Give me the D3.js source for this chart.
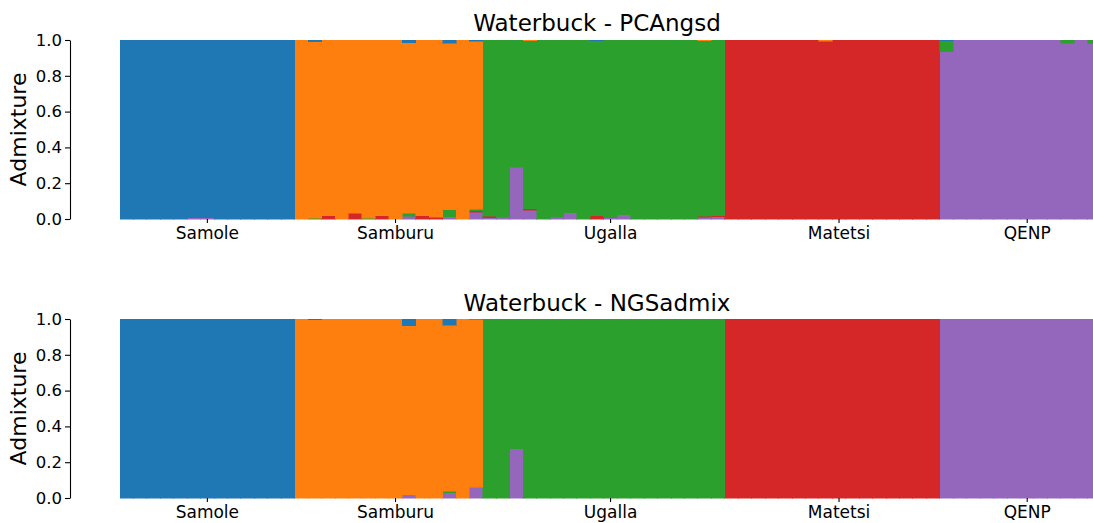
<!DOCTYPE html>
<html>
<head>
<meta charset="utf-8">
<script src="https://cdn.jsdelivr.net/npm/d3@7/dist/d3.min.js"></script>
<style>
  html, body { margin: 0; padding: 0; background: #fff; }
  svg text { font-family: "DejaVu Sans", sans-serif; fill: #000; }
</style>
</head>
<body>
<svg id="chart" width="1093" height="523"></svg>
<script>
// ---------- data ----------
const populations = ["Samole", "Samburu", "Ugalla", "Matetsi", "QENP"];
const popSizes = [13, 14, 18, 16, 12];
const clusters = ["blue", "orange", "green", "red", "purple"];
const clusterColors = ["#1f77b4", "#ff7f0e", "#2ca02c", "#d62728", "#9467bd"];
const yTicks = [0, 0.2, 0.4, 0.6, 0.8, 1.0];
const titles = ["Waterbuck - PCAngsd", "Waterbuck - NGSadmix"];

// PCAngsd admixture proportions (per individual, per cluster)
const pcaBlue = [1,1,1,1,1,0.994,0.994,1,1,1,1,1,1,
  0,0.01,0,0,0,0,0,0,0.015,0,0,0.017,0,0.008,
  0,0,0,0,0,0,0,0,0.004,0,0,0,0,0,0,0,0,0,
  0,0,0,0,0,0,0,0,0,0,0,0,0,0,0,0,
  0.005,0,0,0,0,0,0,0,0,0,0,0];
const pcaOrange = [0,0,0,0,0,0,0,0,0,0,0,0,0,
  1,0.985,0.983,1,0.968,0.996,0.983,1,0.953,0.981,0.991,0.931,1,0.937,
  0,0,0,0.005,0,0,0,0,0,0,0,0,0,0,0,0,0.004,0,
  0,0,0,0,0,0,0,0.006,0,0,0,0,0,0,0,0,
  0,0,0,0,0,0,0,0,0,0,0,0];
const pcaGreen = [0,0,0,0,0,0,0,0,0,0,0,0,0,
  0,0.005,0,0,0,0.004,0,0,0.017,0,0,0.039,0,0.008,
  0.984,0.991,0.711,0.939,1,0.989,0.966,1,0.979,0.993,0.976,1,1,1,1,1,0.982,0.982,
  0,0,0,0,0,0,0,0,0,0,0,0,0,0,0,0,
  0.06,0,0,0,0,0,0,0,0,0.017,0,0.02];
const pcaRed = [0,0,0,0,0,0,0,0,0,0,0,0,0,
  0,0,0.017,0,0.032,0,0.017,0,0,0.019,0.009,0,0,0.01,
  0.008,0,0,0.006,0,0,0,0,0.017,0,0,0,0,0,0,0,0.004,0.005,
  1,1,1,1,1,1,1,0.994,1,1,1,1,1,1,1,1,
  0,0,0,0,0,0,0,0,0,0,0,0];
const pcaPurple = [0,0,0,0,0,0.006,0.006,0,0,0,0,0,0,
  0,0,0,0,0,0,0,0,0.015,0,0,0.013,0,0.037,
  0.008,0.009,0.289,0.05,0,0.011,0.034,0,0,0.007,0.024,0,0,0,0,0,0.01,0.013,
  0,0,0,0,0,0,0,0,0,0,0,0,0,0,0,0,
  0.935,1,1,1,1,1,1,1,1,0.983,1,0.98];

// NGSadmix admixture proportions
const ngsBlue = [1,1,1,1,1,1,1,1,1,1,1,1,1,
  0,0.003,0,0,0,0,0,0,0.039,0,0,0.035,0,0.002,
  0,0,0,0,0,0,0,0,0,0,0,0,0,0,0,0,0,0,
  0,0,0,0,0,0,0,0,0,0,0,0,0,0,0,0,
  0,0,0,0,0,0,0,0,0,0,0,0];
const ngsOrange = [0,0,0,0,0,0,0,0,0,0,0,0,0,
  1,0.997,1,1,1,1,1,1,0.944,1,1,0.928,1,0.937,
  0,0,0,0,0,0,0,0,0,0,0,0,0,0,0,0,0,0,
  0,0,0,0,0,0,0,0,0,0,0,0,0,0,0,0,
  0,0,0,0,0,0,0,0,0,0,0,0];
const ngsGreen = [0,0,0,0,0,0,0,0,0,0,0,0,0,
  0,0,0,0,0,0,0,0,0,0,0,0.009,0,0,
  1,1,0.726,1,1,1,1,1,1,1,1,1,1,1,1,1,1,1,
  0,0,0,0,0,0,0,0,0,0,0,0,0,0,0,0,
  0,0,0,0,0,0,0,0,0,0,0,0];
const ngsRed = [0,0,0,0,0,0,0,0,0,0,0,0,0,
  0,0,0,0,0,0,0,0,0,0,0,0,0,0,
  0,0,0,0,0,0,0,0,0,0,0,0,0,0,0,0,0,0,
  1,1,1,1,1,1,1,1,1,1,1,1,1,1,1,1,
  0,0,0,0,0,0,0,0,0,0,0,0];
const ngsPurple = [0,0,0,0,0,0,0,0,0,0,0,0,0,
  0,0,0,0,0,0,0,0,0.017,0,0,0.028,0,0.061,
  0,0,0.274,0,0,0,0,0,0,0,0,0,0,0,0,0,0,0,
  0,0,0,0,0,0,0,0,0,0,0,0,0,0,0,0,
  1,1,1,1,1,1,1,1,1,1,1,1];

// ---------- build tables ----------
function buildTable(arrs) {
  const n = arrs[0].length;
  return d3.range(n).map(i => {
    const row = { idx: i };
    clusters.forEach((c, k) => { row[c] = arrs[k][i]; });
    return row;
  });
}
const tables = [
  buildTable([pcaBlue, pcaOrange, pcaGreen, pcaRed, pcaPurple]),
  buildTable([ngsBlue, ngsOrange, ngsGreen, ngsRed, ngsPurple])
];

const nInd = d3.sum(popSizes);
const popStarts = popSizes.map((s, i) => d3.sum(popSizes.slice(0, i)));
const tickIdx = popSizes.map((s, i) => popStarts[i] + Math.floor(s / 2));

const color = d3.scaleOrdinal().domain(clusters).range(clusterColors);
const stackKeys = ["purple", "red", "green", "orange", "blue"];
const stack = d3.stack().keys(stackKeys);

const svg = d3.select("#chart");
const barW = 13.44;
const x = d3.scaleBand().domain(d3.range(nInd)).range([120, 120 + nInd * barW]).padding(0);

const panels = [
  { top: 40, bottom: 219, titleY: 31 },
  { top: 319, bottom: 498, titleY: 311 }
];

panels.forEach((p, pi) => {
  const y = d3.scaleLinear().domain([0, 1]).range([p.bottom, p.top]);
  const g = svg.append("g");
  const series = stack(tables[pi]);

  g.selectAll("g.layer").data(series).join("g")
    .attr("class", "layer")
    .attr("fill", d => color(d.key))
    .attr("stroke", d => color(d.key))
    .attr("stroke-width", 0.5)
    .attr("shape-rendering", "crispEdges")
    .selectAll("rect").data(d => d.filter(v => v[1] - v[0] > 0)).join("rect")
      .attr("x", d => x(d.data.idx))
      .attr("width", x.bandwidth())
      .attr("y", d => y(d[1]))
      .attr("height", d => Math.max(0, y(d[0]) - y(d[1])));

  // y axis
  const ya = g.append("g").attr("transform", "translate(70,0)")
    .call(d3.axisLeft(y).tickValues(yTicks).tickFormat(d3.format(".1f")).tickSize(5).tickSizeOuter(0).tickPadding(3));
  ya.select(".domain").attr("stroke", "#000").attr("stroke-width", 1.1);
  ya.selectAll(".tick line").attr("stroke", "#000").attr("stroke-width", 1.1);
  ya.selectAll(".tick text").style("font-size", "16.5px").attr("font-family", "DejaVu Sans");

  // x axis
  const xa = g.append("g").attr("transform", `translate(0,${p.bottom})`)
    .call(d3.axisBottom(x).tickValues(tickIdx).tickFormat((d, i) => populations[i]).tickSize(4).tickPadding(4));
  xa.select(".domain").remove();
  xa.selectAll(".tick line").attr("stroke", "#000").attr("stroke-width", 1.1);
  xa.selectAll(".tick text").style("font-size", "17px").attr("font-family", "DejaVu Sans");

  // title
  g.append("text").attr("x", 597).attr("y", p.titleY)
    .attr("text-anchor", "middle").style("font-size", "23px").text(titles[pi]);

  // y label
  g.append("text")
    .attr("transform", `translate(26,${(p.top + p.bottom) / 2}) rotate(-90)`)
    .attr("text-anchor", "middle").style("font-size", "22px").text("Admixture");
});
</script>
</body>
</html>
